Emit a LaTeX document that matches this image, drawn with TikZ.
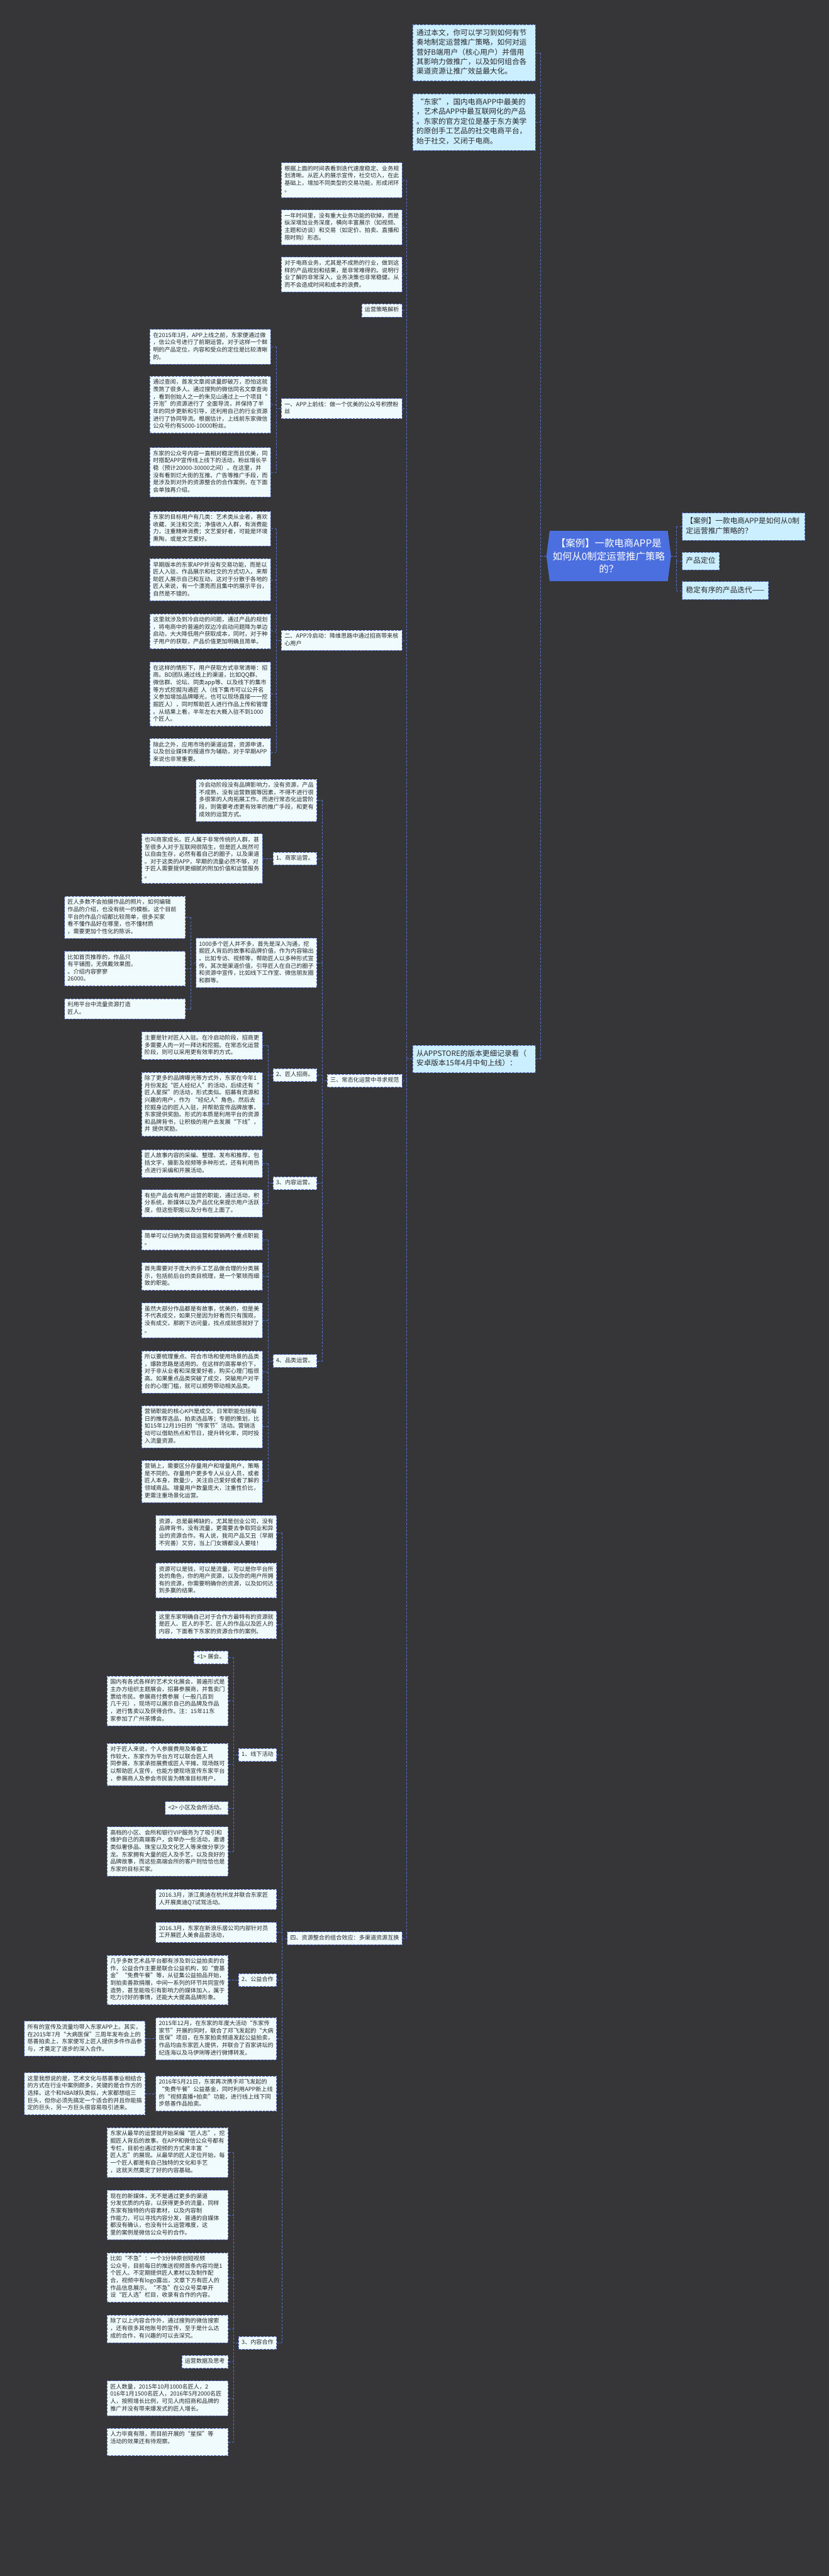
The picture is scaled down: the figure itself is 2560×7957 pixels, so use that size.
\documentclass[tikz,border=0pt]{standalone}
\usepackage{fontspec}
\setmainfont{Noto Sans CJK SC}
\pgfdeclarelayer{back}
\pgfsetlayers{back,main}
\definecolor{bgc}{RGB}{54,53,56}
\definecolor{lnc}{RGB}{84,112,204}
\definecolor{leaff}{RGB}{240,251,254}
\definecolor{bluef}{RGB}{204,239,255}
\definecolor{rootf}{RGB}{76,111,224}
\definecolor{txt}{RGB}{40,40,40}
\newcommand\leaffont{\fontsize{8.85pt}{11.3pt}\selectfont}
\newcommand\bluefont{\fontsize{11.35pt}{15pt}\selectfont}
\newcommand\rootfont{\fontsize{15pt}{20pt}\selectfont}
\newcommand\fanout[5]{%
  \draw[conn] (#1.west) -- (#1.west -| #2);
  \draw[conn] (#3.east -| #2) -- (#4.east -| #2);
  \foreach \ch in {#5}{\draw[conn] (\ch.east) -- (\ch.east -| #2);}
}
\tikzset{
  conn/.style={draw=lnc, line width=0.8pt, dash pattern=on 3.5pt off 2pt},
  box/.style={draw=lnc, line width=0.8pt, dash pattern=on 3.5pt off 2pt, fill=leaff, text=txt,
    font=\leaffont, inner xsep=4.75pt, inner ysep=4.3pt,
    execute at begin node=\strut, execute at end node=\strut},
  leaf/.style={box, text width=177pt, align=left},
  tag/.style={box},
  bluebox/.style={box, fill=bluef, font=\bluefont, inner xsep=6pt, inner ysep=6.2pt},
  bluewide/.style={bluebox, text width=177.5pt, align=left},
  root/.style={text=white, font=\rootfont, align=center, minimum width=182pt,
    minimum height=77.5pt, inner sep=0pt},
}
\begin{document}
\begin{tikzpicture}[x=0.5pt,y=-0.5pt]
\begin{pgfonlayer}{back}
\fill[bgc] (0,0) rectangle (2560,7957);
\end{pgfonlayer}
\useasboundingbox (0,0) rectangle (2560,7957);

% ---------- root ----------
\node[root] (root) at (1880,1717.5) {【案例】一款电商APP是\\如何从0制定运营推广策略\\的？};
\begin{pgfonlayer}{back}
\fill[rootf] (root.north west) -- (root.north east) -- ([xshift=5pt]root.east)
  -- (root.south east) -- (root.south west) -- ([xshift=-5pt]root.west) -- cycle;
\end{pgfonlayer}

% ---------- right children ----------
\node[bluewide, anchor=west] (R1) at (2106,1627) {【案例】一款电商APP是如何从0制\\定运营推广策略的？};
\node[bluebox, anchor=west] (R2) at (2106,1733) {产品定位};
\node[bluebox, anchor=west] (R3) at (2106,1824) {稳定有序的产品迭代——};
\coordinate (sR) at (2089,0);
\draw[conn] ([xshift=5pt]root.east) -- (root.east -| sR);
\draw[conn] (R1.west -| sR) -- (R3.west -| sR);
\foreach \ch in {R1,R2,R3}{\draw[conn] (\ch.west) -- (\ch.west -| sR);}

% ---------- left level 1 ----------
\node[bluewide, anchor=east] (L1) at (1654,163) {通过本文，你可以学习到如何有节\\奏地制定运营推广策略，如何对运\\营好B端用户（核心用户）并借用\\其影响力做推广，以及如何组合各\\渠道资源让推广效益最大化。};
\node[bluewide, anchor=east] (L2) at (1654,377) {“东家”，国内电商APP中最美的\\，艺术品APP中最互联网化的产品\\。东家的官方定位是基于东方美学\\的原创手工艺品的社交电商平台，\\始于社交，又闭于电商。};
\node[bluewide, anchor=east] (L3) at (1654,3271) {从APPSTORE的版本更细记录看（\\安卓版本15年4月中旬上线）：};
\coordinate (sL) at (1670,0);
\draw[conn] ([xshift=-5pt]root.west) -- (root.west -| sL);
\draw[conn] (L1.east -| sL) -- (L3.east -| sL);
\foreach \ch in {L1,L2,L3}{\draw[conn] (\ch.east) -- (\ch.east -| sL);}

% ---------- level 2 (children of L3) ----------
\node[leaf, anchor=east] (A1) at (1243,556) {根据上面的时间表看到迭代速度稳定、业务规\\划清晰。从匠人的展示宣传，社交切入，在此\\基础上，增加不同类型的交易功能，形成闭环\\。};
\node[leaf, anchor=east] (A2) at (1243,702) {一年时间里，没有重大业务功能的砍掉，而是\\纵深增加业务深度，横向丰富展示（如视频、\\主题和访谈）和交易（如定价、拍卖、直播和\\限时购）形态。};
\node[leaf, anchor=east] (A3) at (1243,848) {对于电商业务，尤其是不成熟的行业，做到这\\样的产品规划和结果，是非常难得的。说明行\\业了解的非常深入，业务决策也非常稳健。从\\而不会造成时间和成本的浪费。};
\node[tag, anchor=east] (A4) at (1243,959) {运营策略解析};
\node[leaf, anchor=east] (A5) at (1243,1262) {一、APP上前线：做一个优美的公众号积攒粉\\丝};
\node[leaf, anchor=east] (B0) at (1243,1978) {二、APP冷启动：降维思路中通过招商带来核\\心用户};
\node[tag, anchor=east] (C00) at (1243,3338) {三、常态化运营中寻求规范};
\node[tag, anchor=east] (D00) at (1243,5987) {四、资源整合的组合效应：多渠道资源互换};
\coordinate (sA) at (1256,0);
\fanout{L3}{sA}{A1}{D00}{A1,A2,A3,A4,A5,B0,C00,D00}

% ---------- children of A5 ----------
\node[leaf, anchor=east] (A5a) at (837,1071) {在2015年3月，APP上线之前，东家便通过微\\，信公众号进行了前期运营。对于这样一个鲜\\明的产品定位，内容和受众的定位是比较清晰\\的。};
\node[leaf, anchor=east] (A5b) at (837,1250) {通过查阅，首发文章阅读量即破万，恐怕这就\\羡煞了很多人。通过搜狗的微信同名文章查询\\，看到创始人之一的朱见山通过上一个项目“\\开泡”的资源进行了~全面导流，并保持了半\\年的同步更新和引导，还利用自己的行业资源\\进行了协同导流。根据估计，上线前东家微信\\公众号约有5000-10000粉丝。};
\node[leaf, anchor=east] (A5c) at (837,1459) {东家的公众号内容一直相对稳定而且优美，同\\时搭配APP宣传线上线下的活动，粉丝增长平\\稳（预计20000-30000之间）。在这里，并\\没有看到烂大街的互推、广告等推广手段，而\\是涉及到对外的资源整合的合作案例，在下面\\会单独再介绍。};
\coordinate (s1) at (853,0);
\fanout{A5}{s1}{A5a}{A5c}{A5a,A5b,A5c}

% ---------- children of B0 ----------
\node[leaf, anchor=east] (B1) at (837,1633) {东家的目标用户有几类：艺术类从业者，喜欢\\收藏、关注和交流；净值收入人群，有消费能\\力，注重精神消费；文艺爱好者，可能是环境\\熏陶，或是文艺爱好。};
\node[leaf, anchor=east] (B2) at (837,1791) {早期版本的东家APP并没有交易功能，而是以\\匠人入驻、作品展示和社交的方式切入，来帮\\助匠人展示自己和互动，这对于分散于各地的\\匠人来说，有一个漂亮而且集中的展示平台，\\自然是不错的。};
\node[leaf, anchor=east] (B3) at (837,1950) {这里就涉及到冷启动的问题，通过产品的规划\\，将电商中的普遍的双边冷启动问题降为单边\\启动，大大降低用户获取成本，同时，对于种\\子用户的获取，产品价值更加明确且简单。};
\node[leaf, anchor=east] (B4) at (837,2144) {在这样的情形下，用户获取方式非常清晰：招\\商。BD团队通过线上的渠道，比如QQ群、\\微信群、论坛、同类app等、以及线下的集市\\等方式挖掘沟通匠~人（线下集市可以公开名\\义参加增加品牌曝光，也可以现场直接一一挖\\掘匠人），同时帮助匠人进行作品上传和管理\\。从结果上看，半年左右大概入驻不到1000\\个匠人。};
\node[leaf, anchor=east] (B5) at (837,2324) {除此之外，应用市场的渠道运营，资源申请，\\以及创业媒体的报道作为辅助，对于早期APP\\来说也非常重要。};
\coordinate (s2) at (853,0);
\fanout{B0}{s2}{B1}{B5}{B1,B2,B3,B4,B5}

% ---------- children of C00 ----------
\node[leaf, anchor=east] (C0) at (979,2472) {冷启动阶段没有品牌影响力，没有资源，产品\\不成熟，没有运营数据等因素，不得不进行很\\多很笨的人肉拓展工作。而进行常态化运营阶\\段，则需要考虑更有效率的推广手段，和更有\\成效的运营方式。};
\node[tag, anchor=east] (C1) at (979,2652) {1、商家运营。};
\node[leaf, anchor=east] (C2) at (979,2974) {1000多个匠人并不多，首先是深入沟通，挖\\掘匠人背后的故事和品牌价值，作为内容输出\\。比如专访、视频等，帮助匠人以多种形式宣\\传。其次是渠道价值，引导匠人在自己的圈子\\和资源中宣传，比如线下工作室、微信朋友圈\\和群等。};
\node[tag, anchor=east] (C3) at (979,3321) {2、匠人招商。};
\node[tag, anchor=east] (C4) at (979,3655) {3、内容运营。};
\node[tag, anchor=east] (C5) at (979,4204) {4、品类运营。};
\coordinate (s3) at (996,0);
\fanout{C00}{s3}{C0}{C5}{C0,C1,C2,C3,C4,C5}

\node[leaf, anchor=east] (C1a) at (811,2652) {也叫商家成长。匠人属于非常传统的人群，甚\\至很多人对于互联网很陌生，但是匠人既然可\\以自由生存，必然有着自己的圈子，以及渠道\\。对于这类的APP，早期的流量必然不够，对\\于匠人需要提供更细腻的附加价值和运营服务\\。};
\draw[conn] (C1a.east) -- (C1.west);

\node[leaf, anchor=east] (C2a) at (573,2834) {匠人多数不会拍摄作品的照片，如何编辑\\作品的介绍，也没有统一的模板。这个目前\\平台的作品介绍都比较简单，很多买家\\看不懂作品好在哪里，也不懂材质\\，需要更加个性化的陈诉。};
\node[leaf, anchor=east] (C2b) at (573,2992) {比如首页推荐的，作品只\\有平铺图，无佩戴效果图，\\。介绍内容寥寥\\26000。};
\node[leaf, anchor=east] (C2c) at (573,3116) {利用平台中流量资源打造\\匠人。};
\coordinate (sC2) at (590,0);
\fanout{C2}{sC2}{C2a}{C2c}{C2a,C2b,C2c}

\node[leaf, anchor=east] (C3a) at (811,3230) {主要是针对匠人入驻。在冷启动阶段，招商更\\多需要人肉一对一拜访和挖掘。在常态化运营\\阶段，则可以采用更有效率的方式。};
\node[leaf, anchor=east] (C3b) at (811,3411) {除了更多的品牌曝光等方式外，东家在今年1\\月份发起“匠人经纪人”的活动，后续还有“\\匠人星探”的活动，形式类似。招募有资源和\\兴趣的用户，作为~“经纪人”角色，然后去\\挖掘身边的匠人入驻，并帮助宣传品牌故事，\\东家提供奖励。形式的本质是利用平台的资源\\和品牌背书，让积极的用户去发展“下线”，\\并~提供奖励。};
\coordinate (sC3) at (828,0);
\fanout{C3}{sC3}{C3a}{C3b}{C3a,C3b}

\node[leaf, anchor=east] (C4a) at (811,3594) {匠人故事内容的采编、整理、发布和推荐，包\\括文字，摄影及视频等多种形式，还有利用热\\点进行采编和开展活动。};
\node[leaf, anchor=east] (C4b) at (811,3717) {有些产品会有用户运营的职能，通过活动，积\\分系统，新媒体以及产品优化来提示用户活跃\\度，但这些职能以及分布在上面了。};
\coordinate (sC4) at (828,0);
\fanout{C4}{sC4}{C4a}{C4b}{C4a,C4b}

\node[leaf, anchor=east] (C5a) at (811,3830) {简单可以归纳为类目运营和营销两个重点职能\\。};
\node[leaf, anchor=east] (C5b) at (811,3943) {首先需要对于庞大的手工艺品做合理的分类展\\示，包括前后台的类目梳理，是一个繁琐而细\\致的职能。};
\node[leaf, anchor=east] (C5c) at (811,4078) {虽然大部分作品都是有故事，优美的，但是美\\不代表成交，如果只是因为好看而只有围观，\\没有成交，那刷下访问量，找点成就感就好了\\。};
\node[leaf, anchor=east] (C5d) at (811,4238) {所以要梳理重点、符合市场和使用场景的品类\\，爆款思路是适用的。在这样的高客单价下，\\对于非从业者和深度爱好者，购买心理门槛很\\高。如果重点品类突破了成交，突破用户对平\\台的心理门槛，就可以顺势带动相关品类。};
\node[leaf, anchor=east] (C5e) at (811,4407) {营销职能的核心KPI是成交。日常职能包括每\\日的推荐选品，拍卖选品等；专题的策划，比\\如15年12月19日的“传家节”活动。营销活\\动可以借助热点和节日，提升转化率，同时投\\入流量资源。};
\node[leaf, anchor=east] (C5f) at (811,4576) {营销上，需要区分存量用户和增量用户，策略\\是不同的。存量用户更多专人从业人员，或者\\匠人本身，数量少，关注自己爱好或者了解的\\领域商品。增量用户数量庞大，注重性价比，\\更需注重场景化运营。};
\coordinate (sC5) at (828,0);
\fanout{C5}{sC5}{C5a}{C5f}{C5a,C5b,C5c,C5d,C5e,C5f}

% ---------- children of D00 ----------
\node[leaf, anchor=east] (D1) at (855,4735) {资源，总是最稀缺的，尤其是创业公司，没有\\品牌背书，没有流量，更需要去争取同业和异\\业的资源合作。有人说，我司产品又丑（早期\\不完善）又穷，当上门女婿都没人要哇！};
\node[leaf, anchor=east] (D2) at (855,4882) {资源可以是钱，可以是流量，可以是你平台所\\处的角色，你的用户资源，以及你的用户所拥\\有的资源，你需要明确你的资源，以及如何达\\到多赢的结果。};
\node[leaf, anchor=east] (D3) at (855,5019) {这里东家明确自己对于合作方最特有的资源就\\是匠人、匠人的手艺、匠人的作品以及匠人的\\内容，下面看下东家的资源合作的案例。};
\node[tag, anchor=east] (D4) at (855,5421) {1、线下活动};
\node[leaf, anchor=east] (D5) at (855,5867) {2016.3月，浙江奥迪在杭州龙井联合东家匠\\人开展奥迪Q7试驾活动。};
\node[leaf, anchor=east] (D6) at (855,5969) {2016.3月，东家在新浪乐居公司内部针对员\\工开展匠人美食品尝活动，};
\node[tag, anchor=east] (D7) at (855,6116) {2、公益合作};
\node[leaf, anchor=east] (D8) at (855,6297) {2015年12月，在东家的年度大活动“东家传\\家节”开展的同时，联合了邓飞发起的“大病\\医保”项目，在东家拍卖频道发起公益拍卖，\\作品均由东家匠人提供，并联合了百家讲坛的\\纪连海以及马伊琍等进行微博转发。};
\node[leaf, anchor=east] (D9) at (855,6467) {2016年5月21日，东家再次携手邓飞发起的\\“免费午餐”公益基金，同时利用APP新上线\\的“视频直播+拍卖”功能，进行线上线下同\\步慈善作品拍卖。};
\node[tag, anchor=east] (D10) at (855,7237) {3、内容合作};
\coordinate (s4) at (871,0);
\fanout{D00}{s4}{D1}{D10}{D1,D2,D3,D4,D5,D6,D7,D8,D9,D10}

\node[tag, anchor=east] (D4a) at (705,5120) {<1>~展会。};
\node[leaf, anchor=east] (D4b) at (705,5254) {国内有各式各样的艺术文化展会，普遍形式是\\主办方组织主题展会，招募参展商，并售卖门\\票给市民。参展商付费参展（一般几百到\\几千元），现场可以展示自己的品牌及作品\\，进行售卖以及获得合作。注：15年11东\\家参加了广州茶博会。};
\node[leaf, anchor=east] (D4c) at (705,5450) {对于匠人来说，个人参展费用及筹备工\\作较大，东家作为平台方可以联合匠人共\\同参展，东家承担展费或匠人平摊，现场既可\\以帮助匠人宣传，也能方便现场宣传东家平台\\，参展商人及参会市民皆为精准目标用户，};
\node[tag, anchor=east] (D4d) at (705,5585) {<2>~小区及会所活动。};
\node[leaf, anchor=east] (D4e) at (705,5719) {高档的小区、会所和银行VIP服务为了吸引和\\维护自己的高端客户，会举办一些活动，邀请\\类似奢侈品、珠宝以及文化艺人等来做分享沙\\龙。东家拥有大量的匠人及手艺，以及良好的\\品牌故事，而这些高端会所的客户则恰恰也是\\东家的目标买家。};
\coordinate (sD4) at (721,0);
\fanout{D4}{sD4}{D4a}{D4e}{D4a,D4b,D4c,D4d,D4e}

\node[leaf, anchor=east] (D7a) at (705,6116) {几乎多数艺术品平台都有涉及到公益拍卖的合\\作，公益合作主要是联合公益机构，如“壹基\\金”“免费午餐”等，从征集公益拍品开始，\\到拍卖善款捐赠，中间一系列的环节共同宣传\\造势，甚至能吸引有影响力的媒体加入，属于\\吃力讨好的事情，还能大大提高品牌形象。};
\draw[conn] (D7a.east) -- (D7.west);
\node[leaf, anchor=east] (D8a) at (449,6297) {所有的宣传及流量均带入东家APP上。其实，\\在2015年7月“大病医保”三周年发布会上的\\慈善拍卖上，东家便写上匠人提供多件作品参\\与，才奠定了逐步的深入合作。};
\draw[conn] (D8a.east) -- (D8.west);
\node[leaf, anchor=east] (D9a) at (449,6467) {这里我想说的是，艺术文化与慈善事业相结合\\的方式在行业中案例颇多，关键的是合作方的\\选择。这个和NBA球队类似，大家都想组三\\巨头，但你必须先搞定一个适合的并且你能搞\\定的巨头，另一方巨头很容易吸引进来。};
\draw[conn] (D9a.east) -- (D9.west);

% ---------- children of D10 ----------
\node[leaf, anchor=east] (E1) at (705,6649) {东家从最早的运营就开始采编“匠人志”，挖\\掘匠人背后的故事。在APP和微信公众号都有\\专栏，目前也通过视频的方式来丰富“\\匠人志”的展现。从最早的匠人定位开始，每\\一个匠人都是有自己独特的文化和手艺\\，这就天然奠定了好的内容基础。};
\node[leaf, anchor=east] (E2) at (705,6842) {现在的新媒体，无不是通过更多的渠道\\分发优质的内容，以获得更多的流量，同样\\东家有独特的内容素材，以及内容制\\作能力，可以寻找内容分发，普通的自媒体\\都没有确认，也没有什么运营难度，这\\里的案例是微信公众号的合作。};
\node[leaf, anchor=east] (E3) at (705,7035) {比如“不急”：一个3分钟原创短视频\\公众号，目前每日的推送视频首条内容均是1\\个匠人。不定期提供匠人素材以及制作配\\合，视频中有logo露出，文章下方有匠人的\\作品信息展示。“不急”在公众号菜单开\\设“匠人选”栏目，收录有合作的内容。};
\node[leaf, anchor=east] (E4) at (705,7194) {除了以上内容合作外，通过搜狗的微信搜索\\，还有很多其他账号的宣传，至于是什么达\\成的合作，有兴趣的可以去深究。};
\node[tag, anchor=east] (E5) at (705,7295) {运营数据及思考};
\node[leaf, anchor=east] (E6) at (705,7408) {匠人数量，2015年10月1000名匠人，2\\016年1月1500名匠人，2016年5月2000名匠\\人，按照增长比例，可见人肉招商和品牌的\\推广并没有带来爆发式的匠人增长。};
\node[leaf, anchor=east] (E7) at (705,7543) {人力毕竟有限，而目前开展的“星探”等\\活动的效果还有待观察。\\};
\coordinate (sD10) at (721,0);
\fanout{D10}{sD10}{E1}{E7}{E1,E2,E3,E4,E5,E6,E7}
\end{tikzpicture}
\end{document}
